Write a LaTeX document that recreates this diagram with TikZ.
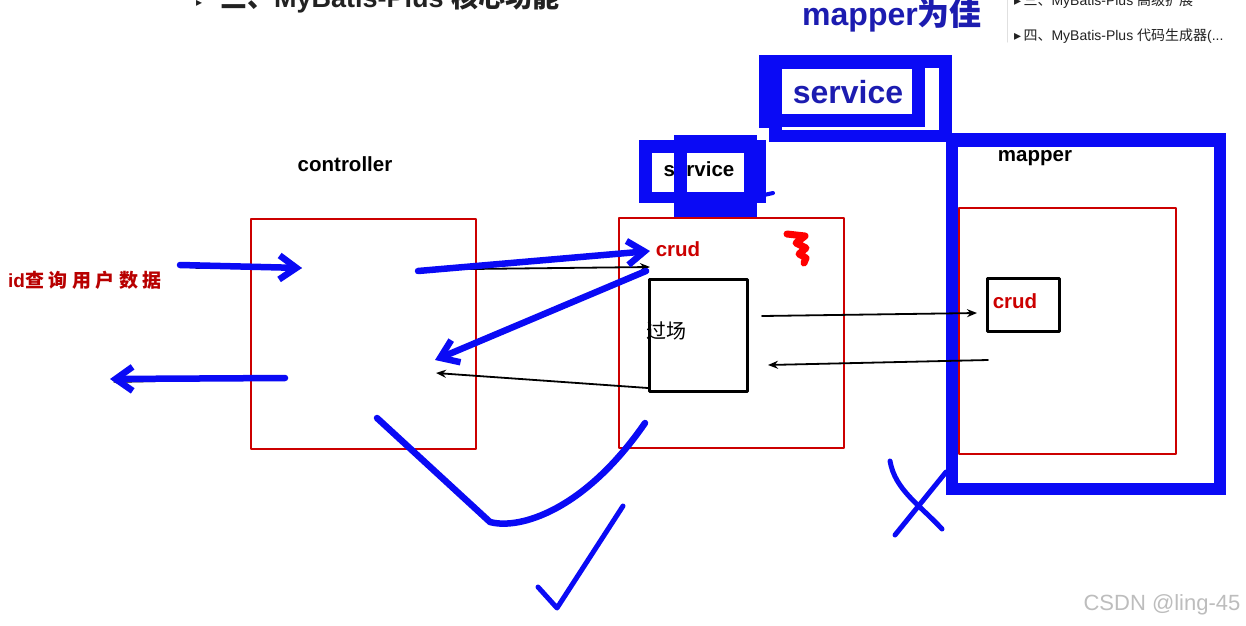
\documentclass[tikz,border=0pt]{standalone}
\usepackage{fontspec}
\setmainfont{Liberation Sans}
\newfontfamily\cjk{Noto Sans CJK SC}
\newfontfamily\cjkwide[LetterSpace=24]{Noto Sans CJK SC}
\newfontfamily\symfont{DejaVu Sans}
\usepackage{tikz}
\usetikzlibrary{arrows.meta,positioning}
\definecolor{penblue}{HTML}{0A0AF5}
\definecolor{boxred}{HTML}{CC0000}
\definecolor{labelblue}{HTML}{1C1CB0}
\definecolor{titleink}{HTML}{222222}
\definecolor{markgray}{HTML}{BDBDBD}

\begin{document}
\begin{tikzpicture}[x=1pt,y=-1pt,line cap=round,line join=round,
  redbox/.style={draw=boxred,line width=2.2pt,inner sep=0pt,anchor=north west},
  blackbox/.style={draw=black,line width=2.6pt,inner sep=0pt,anchor=north west},
  lbl/.style={font=\bfseries\fontsize{20.5}{22}\selectfont,inner sep=0pt},
  pen/.style={penblue,line width=6.5pt},
  penarrow/.style={pen,-{Straight Barb[length=17pt,width=24pt]}},
  thinarrow/.style={black,line width=1.8pt,-{Stealth[length=10pt,width=8pt]}}]
  \useasboundingbox (0,0) rectangle (1246,625);
  \clip (0,0) rectangle (1246,625);
  \fill[white] (0,0) rectangle (1246,625);
  % 顶部标题与右侧目录（截图上边被裁掉）
  \node[anchor=base west,inner sep=0pt,text=titleink,font=\fontsize{12}{12}\selectfont] (bullet) at (196,6) {\symfont ▸};
  \node[anchor=base west,inner sep=0pt,text=titleink,font=\bfseries\fontsize{27}{30}\selectfont] (title) at (220,7) {{\cjk 三、}MyBatis-Plus {\cjk 核心功能}};
  \draw[black!12,line width=1pt] (1007,0)--(1007,42);
  \node[anchor=base west,inner sep=0pt,text=titleink,font=\fontsize{14}{16}\selectfont] (side1) at (1014,5) {{\symfont ▸}\,{\cjk 三、}MyBatis-Plus {\cjk 高级扩展}};
  \node[anchor=base west,inner sep=0pt,text=titleink,font=\fontsize{14}{16}\selectfont] (side2) at (1014,40) {{\symfont ▸}\,{\cjk 四、}MyBatis-Plus {\cjk 代码生成器}(...};
  \node[anchor=base west,inner sep=0pt,text=labelblue,font=\bfseries\fontsize{32}{34}\selectfont] (best) at (802,25) {mapper{\cjk 为佳}};
  % 大 service 框（手绘蓝框）
  \fill[penblue] (759,55) rectangle (952,128);
  \fill[penblue] (769,128) rectangle (952,142);
  \fill[white] (782,69) rectangle (912,114);
  \fill[white] (925,68) rectangle (939,130);
  \fill[white] (782,127) rectangle (939,130);
  \node[text=labelblue,font=\bfseries\fontsize{32}{34}\selectfont,inner sep=0pt] (bigsvc) at (848,92) {service};
  % mapper 蓝框
  \fill[penblue] (946,133) rectangle (1226,495);
  \fill[white] (958,147) rectangle (1214,483);
  \node[lbl] (mappertext) at (1035,158) {mapper};
  \node[redbox,minimum width=217pt,minimum height=246pt] (mapperbox) at (958,207) {};
  \node[blackbox,minimum width=72pt,minimum height=53pt] (mapcrud) at (986,277) {};
  \node[lbl,text=boxred] (mapcrudtext) at (1015,301) {crud};
  % controller
  \node[lbl] (ctrltext) at (345,164) {controller};
  \node[redbox,minimum width=225pt,minimum height=230pt] (ctrl) at (250,218) {};
  % service
  \fill[penblue] (639,140) rectangle (766,203);
  \fill[penblue] (674,135) rectangle (757,217);
  \fill[white] (652,153) rectangle (744,192);
  \node[lbl] (svctext) at (699,169) {service};
  \fill[penblue] (674,153) rectangle (687,192);
  \draw[penblue,line width=4pt] (764,195)--(773,193);
  \node[redbox,minimum width=225pt,minimum height=230pt] (svc) at (618,217) {};
  \node[lbl,text=boxred] (svccrud) at (678,249) {crud};
  \node[blackbox,minimum width=98pt,minimum height=112pt] (pass) at (648,278) {};
  \node[inner sep=0pt,font=\cjk\fontsize{20}{22}\selectfont] (passtext) at (666,331) {过场};
  \draw[red,line width=7pt] (787,234)--(805,236)--(796,243)--(806,248)--(799,254)--(806,258)--(804,263);
  % 请求文字
  \node[anchor=west,inner sep=0pt,text=boxred!90!black,font=\bfseries\fontsize{19}{20}\selectfont] (query) at (8,280) {id{\cjkwide 查询用户数据}};
  % 连线端点
  \coordinate (reqS) at (180,265);
  \coordinate (reqE) at (302,268);
  \coordinate (reqK) at (196,268);
  \coordinate (resS) at (285,378);
  \coordinate (resE) at (110,379);
  \coordinate (resK) at (205,380);
  \coordinate (resKE) at (113,382);
  \coordinate (callS) at (418,271);
  \coordinate (callE) at (650,251);
  \coordinate (callK) at (470,269);
  \coordinate (callKE) at (650,267);
  \coordinate (backS) at (646,271);
  \coordinate (backE) at (435,360);
  \coordinate (retK) at (648,388);
  \coordinate (retKE) at (436,373);
  \coordinate (toMapS) at (762,316);
  \coordinate (toMapE) at (977,313);
  \coordinate (fromMapS) at (988,360);
  \coordinate (fromMapE) at (768,365);
  % 黑色细箭头
  \draw[thinarrow] (reqK)--(reqE);
  \draw[thinarrow] (resK)--(resKE);
  \draw[thinarrow] (callK)--(callKE);
  \draw[thinarrow] (retK)--(retKE);
  \draw[thinarrow] (toMapS)--(toMapE);
  \draw[thinarrow] (fromMapS)--(fromMapE);
  % 蓝色手绘箭头
  \draw[penarrow] (reqS)--(reqE);
  \draw[penarrow] (resS)--(resE);
  \draw[penarrow] (callS)--(callE);
  \draw[penarrow] (backS)--(backE);
  % 手绘勾与叉
  \draw[pen] (377,418)--(490,522) .. controls (520,530) and (585,510) .. (645,423);
  \draw[pen,line width=5pt] (538,587)--(557,608)--(623,506);
  \draw[pen,line width=5pt] (890,461) .. controls (895,490) and (920,505) .. (942,529);
  \draw[pen,line width=5pt] (895,535)--(946,472);
  \node[text=markgray,font=\fontsize{22}{24}\selectfont,inner sep=0pt] (mark) at (1162,605) {CSDN @ling-45};
\end{tikzpicture}
\end{document}
